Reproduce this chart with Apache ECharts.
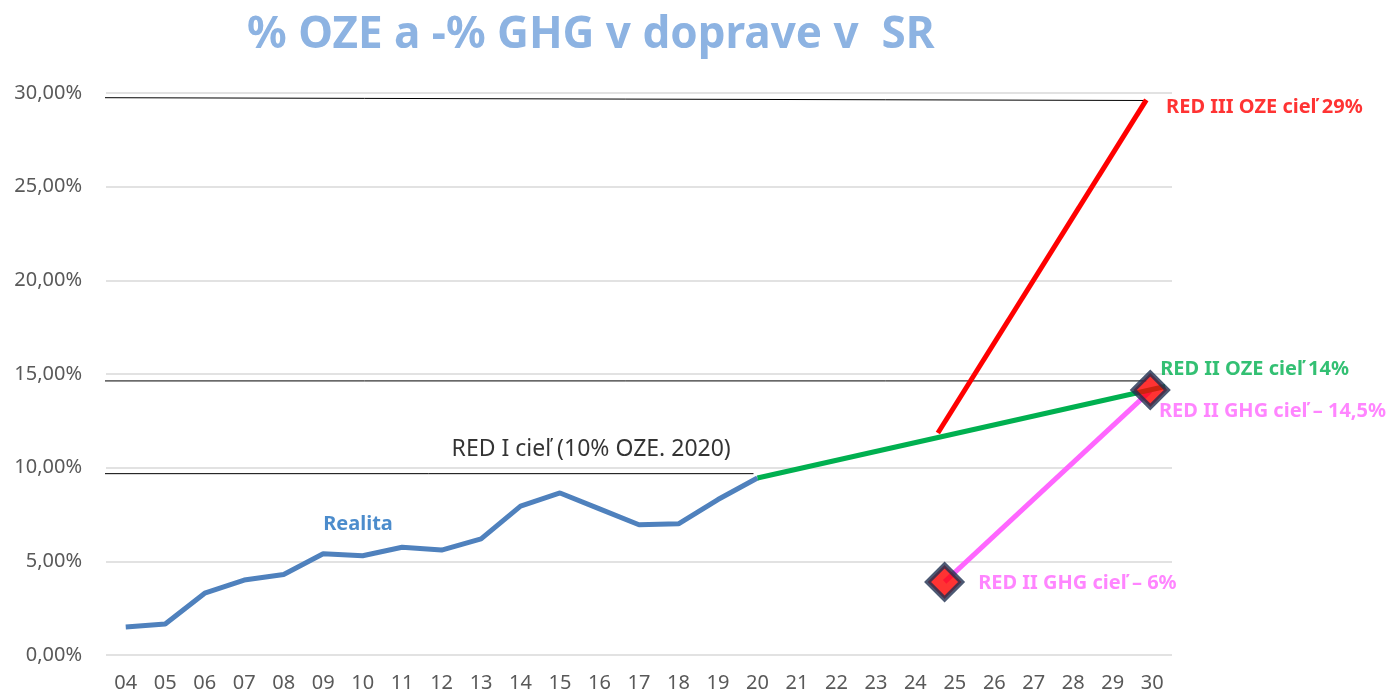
<!DOCTYPE html>
<html>
<head>
<meta charset="utf-8">
<script src="https://cdn.jsdelivr.net/npm/echarts@6/dist/echarts.min.js"></script>
<style>
  html, body { margin: 0; padding: 0; background: #fff; }
  #main { width: 1395px; height: 697px; }
</style>
</head>
<body>
<div id="main"></div>
<script>
// roky (kategorie osi x)
var years = ['04','05','06','07','08','09','10','11','12','13','14','15','16','17','18','19','20','21','22','23','24','25','26','27','28','29','30'];
// realita OZE v doprave, % (2004 - 2020)
var realita = [1.5, 1.65, 3.3, 4.0, 4.3, 5.4, 5.3, 5.75, 5.6, 6.2, 7.95, 8.65, 7.8, 6.95, 7.0, 8.3, 9.45];
// trajektorie cielov [index roka, %]
var redIIOze = [[16, 9.45], [26.33, 14.33]];
var redIIIOze = [[20.57, 11.85], [25.85, 29.63]];
var redIIGhg = [[20.74, 3.9], [25.95, 14.1]];
var ghgBody = [[20.74, 3.9], [25.95, 14.15]];
// ciary cielov
var ciel30 = [[-0.7, 29.75], [25.85, 29.6]];
var ciel14 = [[-0.7, 14.63], [25.85, 14.63]];
var ciel10 = [[-0.7, 9.68], [15.9, 9.68]];

var dom = document.getElementById('main');
var myChart = echarts.init(dom);
var font = 'Noto Sans';

function txt(point, text, color, size, weight) {
	return {
		value: point,
		label: {
			show: true, position: 'right', distance: 0,
			formatter: text, color: color, fontSize: size,
			fontWeight: weight, fontFamily: font
		}
	};
}

var option = {
	animation: false,
	title: {
		text: '% OZE a -% GHG v doprave v  SR',
		left: 242, top: 8,
		textStyle: { color: '#8db3e2', fontSize: 44, fontWeight: 'bold', fontFamily: font }
	},
	grid: { left: 106, right: 223, top: 93, bottom: 42, containLabel: false },
	xAxis: [{
		type: 'category',
		data: years,
		boundaryGap: true,
		axisLine: { show: false },
		axisTick: { show: false },
		axisLabel: { color: '#595959', fontSize: 20, fontFamily: font, margin: 18, interval: 0 }
	}, {
		type: 'value',
		min: -0.5, max: 26.5,
		show: false
	}],
	yAxis: {
		type: 'value',
		min: 0, max: 30, interval: 5,
		axisLine: { show: false },
		axisTick: { show: false },
		splitLine: { lineStyle: { color: '#d9d9d9', width: 1.5 } },
		axisLabel: {
			color: '#595959', fontSize: 20, fontFamily: font, margin: 24,
			formatter: function (v) { return v.toFixed(2).replace('.', ',') + '%'; }
		}
	},
	series: [
		{ type: 'line', xAxisIndex: 1, data: ciel30, symbol: 'none', clip: false, silent: true,
		  lineStyle: { color: '#000', width: 1 } },
		{ type: 'line', xAxisIndex: 1, data: ciel14, symbol: 'none', clip: false, silent: true,
		  lineStyle: { color: '#000', width: 1 } },
		{ type: 'line', xAxisIndex: 1, data: ciel10, symbol: 'none', clip: false, silent: true,
		  lineStyle: { color: '#000', width: 1 } },
		{ name: 'Realita', type: 'line', xAxisIndex: 0, data: realita, symbol: 'none',
		  lineStyle: { color: '#4f81bd', width: 5 } },
		{ type: 'line', xAxisIndex: 1, data: redIIOze, symbol: 'none', clip: false,
		  lineStyle: { color: '#00b050', width: 5 } },
		{ type: 'line', xAxisIndex: 1, data: redIIIOze, symbol: 'none', clip: false,
		  lineStyle: { color: '#ff0000', width: 5 } },
		{ type: 'line', xAxisIndex: 1, data: redIIGhg, symbol: 'none', clip: false, z: 1,
		  lineStyle: { color: '#ff66ff', width: 5 } },
		{ type: 'scatter', xAxisIndex: 1, data: ghgBody, symbol: 'diamond', symbolSize: 34, clip: false, z: 3,
		  itemStyle: { color: '#ff0000', borderColor: '#1f3050', borderWidth: 5 } },
		{ type: 'scatter', xAxisIndex: 1, symbolSize: 0, clip: false, z: 5, silent: true,
		  data: [
			txt([26.35, 29.26], 'RED III OZE cieľ 29%', '#ff0000', 20, 'bold'),
			txt([26.2, 15.27], 'RED II OZE cieľ 14%', '#00b050', 20, 'bold'),
			txt([26.17, 13.03], 'RED II GHG cieľ – 14,5%', '#ff66ff', 20, 'bold'),
			txt([21.59, 3.84], 'RED II GHG cieľ – 6%', '#ff66ff', 20, 'bold'),
			txt([5.0, 6.99], 'Realita', '#1f6fbf', 20, 'bold'),
			{
				value: [8.0, 10.95],
				label: {
					show: true, position: 'right', distance: 0,
					formatter: 'RED I cieľ (10% OZE. 2020)', color: '#000', fontSize: 23,
					fontFamily: font, backgroundColor: '#fff', padding: [4, 10, 6, 10]
				}
			}
		  ] }
	]
};

if (option && typeof option === "object") {
	myChart.setOption(option, true);
}
</script>
</body>
</html>
